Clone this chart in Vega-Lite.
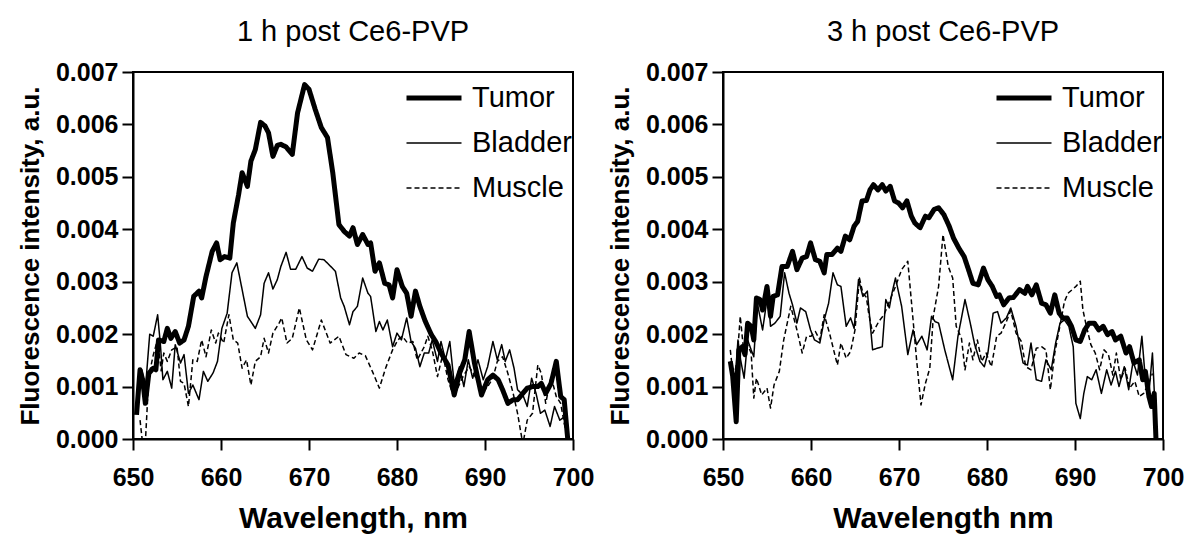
{
"$schema": "https://vega.github.io/schema/vega-lite/v6.json",
"background": "white",
"padding": {"left": 16, "top": 17, "right": 5, "bottom": 5},
"spacing": 11,
"config": {
  "font": "Liberation Sans",
  "view": {"stroke": "black", "strokeWidth": 2},
  "axis": {"domainColor": "black", "domainWidth": 2, "tickColor": "black", "tickWidth": 2, "tickSize": 11, "grid": false,
           "labelFont": "Liberation Sans", "labelFontWeight": "bold", "labelFontSize": 25, "labelColor": "black",
           "titleFont": "Liberation Sans", "titleFontWeight": "bold", "titleColor": "black"},
  "title": {"font": "Liberation Sans", "fontSize": 29, "fontWeight": "normal", "color": "black", "offset": 13},
  "legend": {"orient": "none", "legendX": 271, "legendY": 11, "symbolType": "stroke", "symbolSize": 3025, "symbolStrokeColor": "black",
             "labelFont": "Liberation Sans", "labelFontSize": 29, "labelColor": "black", "labelOffset": 8, "clipHeight": 30, "rowPadding": 15, "padding": 0}
},
"resolve": {"scale": {"strokeDash": "independent", "strokeWidth": "independent"}, "legend": {"strokeDash": "independent", "strokeWidth": "independent"}},
"datasets": {
"h1": [
{"t":"Tumor","w":650.4,"v":0.00046},{"t":"Tumor","w":650.8,"v":0.00132},{"t":"Tumor","w":651.1,"v":0.00113},{"t":"Tumor","w":651.4,"v":0.00068},{"t":"Tumor","w":651.8,"v":0.00125},{"t":"Tumor","w":652.3,"v":0.00135},{"t":"Tumor","w":652.6,"v":0.00132},{"t":"Tumor","w":652.9,"v":0.00189},{"t":"Tumor","w":653.5,"v":0.00186},{"t":"Tumor","w":653.9,"v":0.00211},{"t":"Tumor","w":654.3,"v":0.00192},{"t":"Tumor","w":654.8,"v":0.00205},{"t":"Tumor","w":655.3,"v":0.00183},{"t":"Tumor","w":655.8,"v":0.00189},{"t":"Tumor","w":656.3,"v":0.00215},{"t":"Tumor","w":656.9,"v":0.00272},{"t":"Tumor","w":657.5,"v":0.00282},{"t":"Tumor","w":657.8,"v":0.00269},{"t":"Tumor","w":658.3,"v":0.0031},{"t":"Tumor","w":659.0,"v":0.00358},{"t":"Tumor","w":659.5,"v":0.00374},{"t":"Tumor","w":659.9,"v":0.00342},{"t":"Tumor","w":660.4,"v":0.00348},{"t":"Tumor","w":661.0,"v":0.00345},{"t":"Tumor","w":661.4,"v":0.00412},{"t":"Tumor","w":662.0,"v":0.00466},{"t":"Tumor","w":662.4,"v":0.00508},{"t":"Tumor","w":663.0,"v":0.00482},{"t":"Tumor","w":663.4,"v":0.0053},{"t":"Tumor","w":663.9,"v":0.00552},{"t":"Tumor","w":664.5,"v":0.00604},{"t":"Tumor","w":665.0,"v":0.00597},{"t":"Tumor","w":665.4,"v":0.00584},{"t":"Tumor","w":665.9,"v":0.00539},{"t":"Tumor","w":666.4,"v":0.0056},{"t":"Tumor","w":666.8,"v":0.00562},{"t":"Tumor","w":667.4,"v":0.00557},{"t":"Tumor","w":668.1,"v":0.00543},{"t":"Tumor","w":668.7,"v":0.00622},{"t":"Tumor","w":669.5,"v":0.00676},{"t":"Tumor","w":670.0,"v":0.00667},{"t":"Tumor","w":670.7,"v":0.00629},{"t":"Tumor","w":671.4,"v":0.00594},{"t":"Tumor","w":672.1,"v":0.00575},{"t":"Tumor","w":672.7,"v":0.00508},{"t":"Tumor","w":673.4,"v":0.00409},{"t":"Tumor","w":674.0,"v":0.00396},{"t":"Tumor","w":674.6,"v":0.00387},{"t":"Tumor","w":675.0,"v":0.00403},{"t":"Tumor","w":675.5,"v":0.00371},{"t":"Tumor","w":676.1,"v":0.0039},{"t":"Tumor","w":676.7,"v":0.00371},{"t":"Tumor","w":677.0,"v":0.00374},{"t":"Tumor","w":677.5,"v":0.0032},{"t":"Tumor","w":678.0,"v":0.00336},{"t":"Tumor","w":678.6,"v":0.00297},{"t":"Tumor","w":679.1,"v":0.00294},{"t":"Tumor","w":679.5,"v":0.00269},{"t":"Tumor","w":680.0,"v":0.00323},{"t":"Tumor","w":680.6,"v":0.00291},{"t":"Tumor","w":681.1,"v":0.00278},{"t":"Tumor","w":681.6,"v":0.00234},{"t":"Tumor","w":682.1,"v":0.00282},{"t":"Tumor","w":682.6,"v":0.00253},{"t":"Tumor","w":683.2,"v":0.00225},{"t":"Tumor","w":683.9,"v":0.00199},{"t":"Tumor","w":684.4,"v":0.00186},{"t":"Tumor","w":685.0,"v":0.00164},{"t":"Tumor","w":685.8,"v":0.00141},{"t":"Tumor","w":686.5,"v":0.00084},{"t":"Tumor","w":687.1,"v":0.00125},{"t":"Tumor","w":687.7,"v":0.00151},{"t":"Tumor","w":688.2,"v":0.00205},{"t":"Tumor","w":688.8,"v":0.00145},{"t":"Tumor","w":689.6,"v":0.00084},{"t":"Tumor","w":690.3,"v":0.00113},{"t":"Tumor","w":690.9,"v":0.00122},{"t":"Tumor","w":691.5,"v":0.00113},{"t":"Tumor","w":692.0,"v":0.00094},{"t":"Tumor","w":692.6,"v":0.00068},{"t":"Tumor","w":693.2,"v":0.00075},{"t":"Tumor","w":693.7,"v":0.00075},{"t":"Tumor","w":694.3,"v":0.00087},{"t":"Tumor","w":694.8,"v":0.00097},{"t":"Tumor","w":695.4,"v":0.001},{"t":"Tumor","w":696.0,"v":0.001},{"t":"Tumor","w":696.4,"v":0.00106},{"t":"Tumor","w":696.9,"v":0.00087},{"t":"Tumor","w":697.5,"v":0.00106},{"t":"Tumor","w":698.1,"v":0.00148},{"t":"Tumor","w":698.6,"v":0.00081},{"t":"Tumor","w":699.0,"v":0.00075},{"t":"Tumor","w":699.4,"v":0.0},
{"t":"Bladder","w":650.45,"v":0.00087},{"t":"Bladder","w":651.0,"v":0.00132},{"t":"Bladder","w":651.4,"v":0.00094},{"t":"Bladder","w":651.9,"v":0.002},{"t":"Bladder","w":652.3,"v":0.00196},{"t":"Bladder","w":652.8,"v":0.00237},{"t":"Bladder","w":653.1,"v":0.00183},{"t":"Bladder","w":653.4,"v":0.00113},{"t":"Bladder","w":653.9,"v":0.00129},{"t":"Bladder","w":654.4,"v":0.00097},{"t":"Bladder","w":654.8,"v":0.0018},{"t":"Bladder","w":655.4,"v":0.00145},{"t":"Bladder","w":655.8,"v":0.00161},{"t":"Bladder","w":656.3,"v":0.00087},{"t":"Bladder","w":656.8,"v":0.00103},{"t":"Bladder","w":657.5,"v":0.00075},{"t":"Bladder","w":658.0,"v":0.00129},{"t":"Bladder","w":658.5,"v":0.0011},{"t":"Bladder","w":659.1,"v":0.00126},{"t":"Bladder","w":659.6,"v":0.00148},{"t":"Bladder","w":660.1,"v":0.00211},{"t":"Bladder","w":660.7,"v":0.0024},{"t":"Bladder","w":661.25,"v":0.00317},{"t":"Bladder","w":661.8,"v":0.00336},{"t":"Bladder","w":662.4,"v":0.00285},{"t":"Bladder","w":663.0,"v":0.00234},{"t":"Bladder","w":663.4,"v":0.00224},{"t":"Bladder","w":663.9,"v":0.00211},{"t":"Bladder","w":664.5,"v":0.00237},{"t":"Bladder","w":664.9,"v":0.00297},{"t":"Bladder","w":665.4,"v":0.00317},{"t":"Bladder","w":665.9,"v":0.00286},{"t":"Bladder","w":666.4,"v":0.00304},{"t":"Bladder","w":666.8,"v":0.00329},{"t":"Bladder","w":667.4,"v":0.00356},{"t":"Bladder","w":667.9,"v":0.00324},{"t":"Bladder","w":668.5,"v":0.00324},{"t":"Bladder","w":669.2,"v":0.00348},{"t":"Bladder","w":669.8,"v":0.00326},{"t":"Bladder","w":670.4,"v":0.0032},{"t":"Bladder","w":671.1,"v":0.00343},{"t":"Bladder","w":671.7,"v":0.00342},{"t":"Bladder","w":672.3,"v":0.00332},{"t":"Bladder","w":673.0,"v":0.0032},{"t":"Bladder","w":673.6,"v":0.00269},{"t":"Bladder","w":674.0,"v":0.00253},{"t":"Bladder","w":674.6,"v":0.00218},{"t":"Bladder","w":675.0,"v":0.00243},{"t":"Bladder","w":675.5,"v":0.00253},{"t":"Bladder","w":676.1,"v":0.00307},{"t":"Bladder","w":676.7,"v":0.00278},{"t":"Bladder","w":677.0,"v":0.00272},{"t":"Bladder","w":677.6,"v":0.00205},{"t":"Bladder","w":678.0,"v":0.00224},{"t":"Bladder","w":678.4,"v":0.00208},{"t":"Bladder","w":678.9,"v":0.00227},{"t":"Bladder","w":679.5,"v":0.00176},{"t":"Bladder","w":680.0,"v":0.00202},{"t":"Bladder","w":680.5,"v":0.00189},{"t":"Bladder","w":681.1,"v":0.00231},{"t":"Bladder","w":681.6,"v":0.00186},{"t":"Bladder","w":682.1,"v":0.00173},{"t":"Bladder","w":682.6,"v":0.00138},{"t":"Bladder","w":683.1,"v":0.00164},{"t":"Bladder","w":683.6,"v":0.00164},{"t":"Bladder","w":684.0,"v":0.00189},{"t":"Bladder","w":684.6,"v":0.00148},{"t":"Bladder","w":685.0,"v":0.00186},{"t":"Bladder","w":685.5,"v":0.00151},{"t":"Bladder","w":686.0,"v":0.00186},{"t":"Bladder","w":686.5,"v":0.00106},{"t":"Bladder","w":687.1,"v":0.00138},{"t":"Bladder","w":687.6,"v":0.001},{"t":"Bladder","w":688.1,"v":0.00151},{"t":"Bladder","w":688.6,"v":0.00116},{"t":"Bladder","w":689.2,"v":0.00151},{"t":"Bladder","w":689.8,"v":0.00113},{"t":"Bladder","w":690.3,"v":0.00138},{"t":"Bladder","w":690.9,"v":0.00186},{"t":"Bladder","w":691.4,"v":0.00151},{"t":"Bladder","w":691.9,"v":0.0018},{"t":"Bladder","w":692.3,"v":0.00148},{"t":"Bladder","w":692.8,"v":0.0017},{"t":"Bladder","w":693.3,"v":0.00135},{"t":"Bladder","w":693.7,"v":0.00094},{"t":"Bladder","w":694.3,"v":0.00084},{"t":"Bladder","w":694.8,"v":0.00062},{"t":"Bladder","w":695.3,"v":0.00116},{"t":"Bladder","w":695.8,"v":0.00087},{"t":"Bladder","w":696.3,"v":0.00049},{"t":"Bladder","w":696.8,"v":0.00055},{"t":"Bladder","w":697.4,"v":0.00024},{"t":"Bladder","w":697.9,"v":0.00062},{"t":"Bladder","w":698.5,"v":0.00036},{"t":"Bladder","w":699.1,"v":0.00043},{"t":"Bladder","w":699.4,"v":0.0},
{"t":"Muscle","w":650.8,"v":0.00036},{"t":"Muscle","w":651.3,"v":-0.0004},{"t":"Muscle","w":651.8,"v":0.0012},{"t":"Muscle","w":652.3,"v":0.0016},{"t":"Muscle","w":652.8,"v":0.0019},{"t":"Muscle","w":653.2,"v":0.0013},{"t":"Muscle","w":653.5,"v":0.00164},{"t":"Muscle","w":653.9,"v":0.00148},{"t":"Muscle","w":654.4,"v":0.0017},{"t":"Muscle","w":655.0,"v":0.00176},{"t":"Muscle","w":655.4,"v":0.0011},{"t":"Muscle","w":655.8,"v":0.00106},{"t":"Muscle","w":656.3,"v":0.00062},{"t":"Muscle","w":656.8,"v":0.00151},{"t":"Muscle","w":657.3,"v":0.00148},{"t":"Muscle","w":657.8,"v":0.00189},{"t":"Muscle","w":658.3,"v":0.00157},{"t":"Muscle","w":658.9,"v":0.00208},{"t":"Muscle","w":659.4,"v":0.00183},{"t":"Muscle","w":659.7,"v":0.00202},{"t":"Muscle","w":660.3,"v":0.00183},{"t":"Muscle","w":660.9,"v":0.00237},{"t":"Muscle","w":661.4,"v":0.00189},{"t":"Muscle","w":661.9,"v":0.00183},{"t":"Muscle","w":662.4,"v":0.00135},{"t":"Muscle","w":662.9,"v":0.00151},{"t":"Muscle","w":663.4,"v":0.00103},{"t":"Muscle","w":663.9,"v":0.00148},{"t":"Muscle","w":664.5,"v":0.00157},{"t":"Muscle","w":664.9,"v":0.00192},{"t":"Muscle","w":665.4,"v":0.00164},{"t":"Muscle","w":665.9,"v":0.00202},{"t":"Muscle","w":666.6,"v":0.00221},{"t":"Muscle","w":666.9,"v":0.00231},{"t":"Muscle","w":667.5,"v":0.00183},{"t":"Muscle","w":668.1,"v":0.00192},{"t":"Muscle","w":668.9,"v":0.0025},{"t":"Muscle","w":669.7,"v":0.00189},{"t":"Muscle","w":670.4,"v":0.0017},{"t":"Muscle","w":671.4,"v":0.00227},{"t":"Muscle","w":672.4,"v":0.00183},{"t":"Muscle","w":673.4,"v":0.00196},{"t":"Muscle","w":674.2,"v":0.00161},{"t":"Muscle","w":675.1,"v":0.00154},{"t":"Muscle","w":675.7,"v":0.00164},{"t":"Muscle","w":676.4,"v":0.00159},{"t":"Muscle","w":677.2,"v":0.00129},{"t":"Muscle","w":678.0,"v":0.00097},{"t":"Muscle","w":678.7,"v":0.00135},{"t":"Muscle","w":679.5,"v":0.0017},{"t":"Muscle","w":680.1,"v":0.00189},{"t":"Muscle","w":680.6,"v":0.00196},{"t":"Muscle","w":681.2,"v":0.00183},{"t":"Muscle","w":681.8,"v":0.00186},{"t":"Muscle","w":682.3,"v":0.00151},{"t":"Muscle","w":683.1,"v":0.00176},{"t":"Muscle","w":683.5,"v":0.00196},{"t":"Muscle","w":684.0,"v":0.0017},{"t":"Muscle","w":684.6,"v":0.00119},{"t":"Muscle","w":685.2,"v":0.00161},{"t":"Muscle","w":685.8,"v":0.00113},{"t":"Muscle","w":686.3,"v":0.00087},{"t":"Muscle","w":686.9,"v":0.00097},{"t":"Muscle","w":687.5,"v":0.00119},{"t":"Muscle","w":688.2,"v":0.00138},{"t":"Muscle","w":689.0,"v":0.00116},{"t":"Muscle","w":689.6,"v":0.00087},{"t":"Muscle","w":690.3,"v":0.001},{"t":"Muscle","w":690.9,"v":0.00116},{"t":"Muscle","w":691.4,"v":0.00148},{"t":"Muscle","w":692.0,"v":0.00157},{"t":"Muscle","w":692.6,"v":0.00125},{"t":"Muscle","w":693.2,"v":0.00087},{"t":"Muscle","w":693.7,"v":0.00049},{"t":"Muscle","w":694.3,"v":-0.0001},{"t":"Muscle","w":694.8,"v":0.00036},{"t":"Muscle","w":695.4,"v":0.00049},{"t":"Muscle","w":696.0,"v":0.00141},{"t":"Muscle","w":696.4,"v":0.00125},{"t":"Muscle","w":696.9,"v":0.00068},{"t":"Muscle","w":697.5,"v":0.00119},{"t":"Muscle","w":698.1,"v":0.00081},{"t":"Muscle","w":698.6,"v":0.00068},{"t":"Muscle","w":699.0,"v":0.0003},{"t":"Muscle","w":699.4,"v":0.0}
],
"h3": [
{"t":"Tumor","w":650.83,"v":0.00148},{"t":"Tumor","w":651.1,"v":0.0012},{"t":"Tumor","w":651.5,"v":0.00033},{"t":"Tumor","w":651.8,"v":0.0017},{"t":"Tumor","w":652.2,"v":0.00176},{"t":"Tumor","w":652.5,"v":0.00161},{"t":"Tumor","w":652.8,"v":0.00221},{"t":"Tumor","w":653.2,"v":0.00215},{"t":"Tumor","w":653.5,"v":0.00189},{"t":"Tumor","w":653.8,"v":0.00269},{"t":"Tumor","w":654.2,"v":0.00266},{"t":"Tumor","w":654.5,"v":0.00246},{"t":"Tumor","w":655.0,"v":0.00291},{"t":"Tumor","w":655.4,"v":0.00234},{"t":"Tumor","w":655.7,"v":0.00272},{"t":"Tumor","w":656.2,"v":0.00275},{"t":"Tumor","w":656.7,"v":0.00329},{"t":"Tumor","w":657.3,"v":0.00329},{"t":"Tumor","w":657.9,"v":0.00358},{"t":"Tumor","w":658.4,"v":0.00323},{"t":"Tumor","w":659.0,"v":0.00345},{"t":"Tumor","w":659.5,"v":0.00348},{"t":"Tumor","w":659.95,"v":0.00374},{"t":"Tumor","w":660.5,"v":0.00342},{"t":"Tumor","w":661.0,"v":0.00339},{"t":"Tumor","w":661.5,"v":0.00317},{"t":"Tumor","w":661.8,"v":0.00352},{"t":"Tumor","w":662.4,"v":0.00352},{"t":"Tumor","w":663.0,"v":0.00364},{"t":"Tumor","w":663.4,"v":0.00358},{"t":"Tumor","w":663.9,"v":0.00387},{"t":"Tumor","w":664.4,"v":0.0038},{"t":"Tumor","w":664.9,"v":0.00406},{"t":"Tumor","w":665.3,"v":0.00415},{"t":"Tumor","w":665.8,"v":0.00454},{"t":"Tumor","w":666.3,"v":0.00455},{"t":"Tumor","w":666.7,"v":0.00475},{"t":"Tumor","w":667.1,"v":0.00485},{"t":"Tumor","w":667.6,"v":0.00475},{"t":"Tumor","w":668.1,"v":0.00485},{"t":"Tumor","w":668.5,"v":0.00473},{"t":"Tumor","w":669.0,"v":0.00482},{"t":"Tumor","w":669.5,"v":0.00454},{"t":"Tumor","w":669.95,"v":0.0045},{"t":"Tumor","w":670.4,"v":0.00441},{"t":"Tumor","w":670.9,"v":0.00454},{"t":"Tumor","w":671.4,"v":0.00425},{"t":"Tumor","w":671.8,"v":0.00412},{"t":"Tumor","w":672.4,"v":0.00403},{"t":"Tumor","w":673.0,"v":0.00425},{"t":"Tumor","w":673.4,"v":0.00422},{"t":"Tumor","w":674.0,"v":0.00438},{"t":"Tumor","w":674.5,"v":0.00441},{"t":"Tumor","w":675.1,"v":0.00428},{"t":"Tumor","w":675.7,"v":0.00406},{"t":"Tumor","w":676.2,"v":0.00383},{"t":"Tumor","w":676.8,"v":0.00364},{"t":"Tumor","w":677.4,"v":0.00348},{"t":"Tumor","w":677.9,"v":0.00323},{"t":"Tumor","w":678.4,"v":0.00297},{"t":"Tumor","w":679.0,"v":0.00294},{"t":"Tumor","w":679.6,"v":0.00326},{"t":"Tumor","w":680.1,"v":0.00304},{"t":"Tumor","w":680.6,"v":0.00291},{"t":"Tumor","w":681.1,"v":0.00272},{"t":"Tumor","w":681.4,"v":0.00275},{"t":"Tumor","w":681.9,"v":0.00256},{"t":"Tumor","w":682.5,"v":0.00269},{"t":"Tumor","w":683.0,"v":0.0027},{"t":"Tumor","w":683.7,"v":0.00285},{"t":"Tumor","w":684.3,"v":0.00278},{"t":"Tumor","w":684.6,"v":0.00291},{"t":"Tumor","w":685.1,"v":0.00275},{"t":"Tumor","w":685.6,"v":0.00294},{"t":"Tumor","w":686.2,"v":0.00259},{"t":"Tumor","w":686.7,"v":0.00256},{"t":"Tumor","w":687.2,"v":0.0024},{"t":"Tumor","w":687.7,"v":0.00275},{"t":"Tumor","w":688.2,"v":0.0024},{"t":"Tumor","w":688.6,"v":0.00231},{"t":"Tumor","w":689.1,"v":0.00231},{"t":"Tumor","w":689.6,"v":0.00215},{"t":"Tumor","w":690.1,"v":0.00189},{"t":"Tumor","w":690.6,"v":0.00186},{"t":"Tumor","w":691.1,"v":0.00208},{"t":"Tumor","w":691.6,"v":0.00221},{"t":"Tumor","w":692.2,"v":0.00221},{"t":"Tumor","w":692.7,"v":0.00208},{"t":"Tumor","w":693.2,"v":0.00215},{"t":"Tumor","w":693.7,"v":0.00199},{"t":"Tumor","w":694.2,"v":0.00205},{"t":"Tumor","w":694.6,"v":0.00189},{"t":"Tumor","w":695.2,"v":0.00196},{"t":"Tumor","w":695.8,"v":0.00164},{"t":"Tumor","w":696.2,"v":0.00176},{"t":"Tumor","w":696.7,"v":0.00145},{"t":"Tumor","w":697.3,"v":0.00151},{"t":"Tumor","w":697.7,"v":0.00113},{"t":"Tumor","w":698.0,"v":0.00129},{"t":"Tumor","w":698.4,"v":0.00081},{"t":"Tumor","w":698.7,"v":0.00062},{"t":"Tumor","w":699.0,"v":0.00087},{"t":"Tumor","w":699.2,"v":0.0},
{"t":"Bladder","w":650.83,"v":0.00148},{"t":"Bladder","w":651.3,"v":0.00094},{"t":"Bladder","w":651.7,"v":0.00189},{"t":"Bladder","w":652.0,"v":0.00151},{"t":"Bladder","w":652.4,"v":0.00116},{"t":"Bladder","w":652.8,"v":0.00189},{"t":"Bladder","w":653.2,"v":0.0017},{"t":"Bladder","w":653.5,"v":0.00157},{"t":"Bladder","w":653.9,"v":0.00259},{"t":"Bladder","w":654.5,"v":0.00208},{"t":"Bladder","w":655.1,"v":0.00278},{"t":"Bladder","w":655.4,"v":0.00215},{"t":"Bladder","w":655.9,"v":0.00221},{"t":"Bladder","w":656.5,"v":0.00234},{"t":"Bladder","w":657.0,"v":0.00317},{"t":"Bladder","w":657.5,"v":0.00278},{"t":"Bladder","w":657.9,"v":0.00256},{"t":"Bladder","w":658.4,"v":0.00221},{"t":"Bladder","w":658.8,"v":0.0025},{"t":"Bladder","w":659.4,"v":0.00243},{"t":"Bladder","w":659.95,"v":0.00208},{"t":"Bladder","w":660.4,"v":0.00189},{"t":"Bladder","w":661.0,"v":0.00183},{"t":"Bladder","w":661.5,"v":0.00227},{"t":"Bladder","w":662.0,"v":0.00259},{"t":"Bladder","w":662.5,"v":0.00317},{"t":"Bladder","w":663.0,"v":0.00294},{"t":"Bladder","w":663.4,"v":0.00291},{"t":"Bladder","w":664.0,"v":0.00215},{"t":"Bladder","w":664.5,"v":0.00231},{"t":"Bladder","w":664.9,"v":0.00211},{"t":"Bladder","w":665.4,"v":0.00304},{"t":"Bladder","w":665.9,"v":0.00272},{"t":"Bladder","w":666.4,"v":0.00282},{"t":"Bladder","w":667.0,"v":0.0017},{"t":"Bladder","w":667.5,"v":0.00173},{"t":"Bladder","w":668.1,"v":0.00176},{"t":"Bladder","w":668.5,"v":0.00266},{"t":"Bladder","w":668.9,"v":0.0025},{"t":"Bladder","w":669.2,"v":0.00278},{"t":"Bladder","w":669.6,"v":0.00307},{"t":"Bladder","w":670.3,"v":0.00253},{"t":"Bladder","w":671.0,"v":0.00161},{"t":"Bladder","w":671.6,"v":0.00208},{"t":"Bladder","w":672.0,"v":0.0018},{"t":"Bladder","w":672.6,"v":0.00196},{"t":"Bladder","w":673.2,"v":0.0017},{"t":"Bladder","w":673.7,"v":0.00234},{"t":"Bladder","w":674.1,"v":0.00224},{"t":"Bladder","w":674.5,"v":0.00221},{"t":"Bladder","w":675.2,"v":0.0017},{"t":"Bladder","w":676.1,"v":0.00113},{"t":"Bladder","w":676.7,"v":0.00196},{"t":"Bladder","w":677.5,"v":0.00266},{"t":"Bladder","w":678.1,"v":0.00221},{"t":"Bladder","w":678.6,"v":0.0018},{"t":"Bladder","w":679.2,"v":0.00148},{"t":"Bladder","w":679.7,"v":0.00138},{"t":"Bladder","w":680.1,"v":0.00164},{"t":"Bladder","w":680.7,"v":0.0024},{"t":"Bladder","w":681.2,"v":0.00243},{"t":"Bladder","w":681.6,"v":0.00221},{"t":"Bladder","w":682.2,"v":0.00231},{"t":"Bladder","w":682.7,"v":0.0025},{"t":"Bladder","w":683.3,"v":0.00215},{"t":"Bladder","w":684.1,"v":0.00145},{"t":"Bladder","w":684.6,"v":0.00141},{"t":"Bladder","w":685.0,"v":0.00183},{"t":"Bladder","w":685.6,"v":0.00113},{"t":"Bladder","w":686.2,"v":0.0011},{"t":"Bladder","w":686.7,"v":0.00151},{"t":"Bladder","w":687.3,"v":0.00132},{"t":"Bladder","w":687.8,"v":0.00183},{"t":"Bladder","w":688.3,"v":0.00221},{"t":"Bladder","w":688.8,"v":0.00227},{"t":"Bladder","w":689.3,"v":0.00215},{"t":"Bladder","w":689.8,"v":0.00176},{"t":"Bladder","w":690.1,"v":0.00068},{"t":"Bladder","w":690.6,"v":0.00039},{"t":"Bladder","w":691.0,"v":0.00087},{"t":"Bladder","w":691.4,"v":0.00119},{"t":"Bladder","w":691.9,"v":0.00113},{"t":"Bladder","w":692.4,"v":0.00132},{"t":"Bladder","w":693.0,"v":0.00087},{"t":"Bladder","w":693.6,"v":0.00132},{"t":"Bladder","w":694.1,"v":0.00103},{"t":"Bladder","w":694.6,"v":0.00129},{"t":"Bladder","w":695.0,"v":0.001},{"t":"Bladder","w":695.6,"v":0.00138},{"t":"Bladder","w":696.1,"v":0.00094},{"t":"Bladder","w":696.6,"v":0.00148},{"t":"Bladder","w":697.1,"v":0.00122},{"t":"Bladder","w":697.6,"v":0.00196},{"t":"Bladder","w":698.0,"v":0.00113},{"t":"Bladder","w":698.4,"v":0.00087},{"t":"Bladder","w":698.8,"v":0.00164},{"t":"Bladder","w":699.2,"v":0.00024},
{"t":"Muscle","w":650.83,"v":0.0017},{"t":"Muscle","w":651.2,"v":0.00113},{"t":"Muscle","w":651.6,"v":0.00151},{"t":"Muscle","w":651.96,"v":0.00234},{"t":"Muscle","w":652.3,"v":0.00176},{"t":"Muscle","w":652.7,"v":0.00183},{"t":"Muscle","w":653.2,"v":0.00164},{"t":"Muscle","w":653.5,"v":0.00078},{"t":"Muscle","w":653.8,"v":0.00116},{"t":"Muscle","w":654.4,"v":0.00084},{"t":"Muscle","w":655.0,"v":0.00097},{"t":"Muscle","w":655.4,"v":0.00059},{"t":"Muscle","w":655.8,"v":0.00103},{"t":"Muscle","w":656.4,"v":0.00129},{"t":"Muscle","w":656.9,"v":0.00189},{"t":"Muscle","w":657.7,"v":0.00253},{"t":"Muscle","w":658.4,"v":0.00208},{"t":"Muscle","w":659.0,"v":0.00164},{"t":"Muscle","w":659.5,"v":0.00196},{"t":"Muscle","w":660.0,"v":0.00196},{"t":"Muscle","w":660.5,"v":0.00205},{"t":"Muscle","w":661.0,"v":0.00189},{"t":"Muscle","w":661.5,"v":0.00237},{"t":"Muscle","w":662.1,"v":0.00202},{"t":"Muscle","w":663.0,"v":0.00141},{"t":"Muscle","w":663.4,"v":0.00183},{"t":"Muscle","w":664.0,"v":0.00154},{"t":"Muscle","w":664.5,"v":0.00167},{"t":"Muscle","w":665.0,"v":0.00208},{"t":"Muscle","w":665.5,"v":0.00307},{"t":"Muscle","w":665.9,"v":0.00278},{"t":"Muscle","w":666.3,"v":0.0027},{"t":"Muscle","w":666.55,"v":0.0024},{"t":"Muscle","w":667.0,"v":0.00202},{"t":"Muscle","w":667.7,"v":0.00224},{"t":"Muscle","w":668.3,"v":0.00237},{"t":"Muscle","w":669.0,"v":0.00266},{"t":"Muscle","w":669.6,"v":0.00291},{"t":"Muscle","w":670.3,"v":0.00323},{"t":"Muscle","w":671.0,"v":0.00339},{"t":"Muscle","w":671.6,"v":0.00227},{"t":"Muscle","w":672.0,"v":0.00151},{"t":"Muscle","w":672.5,"v":0.00065},{"t":"Muscle","w":673.0,"v":0.00106},{"t":"Muscle","w":673.5,"v":0.00135},{"t":"Muscle","w":673.9,"v":0.00234},{"t":"Muscle","w":674.5,"v":0.00291},{"t":"Muscle","w":675.0,"v":0.0039},{"t":"Muscle","w":675.6,"v":0.00329},{"t":"Muscle","w":676.1,"v":0.00307},{"t":"Muscle","w":676.5,"v":0.00215},{"t":"Muscle","w":677.1,"v":0.00192},{"t":"Muscle","w":677.5,"v":0.00132},{"t":"Muscle","w":678.0,"v":0.00183},{"t":"Muscle","w":678.4,"v":0.00151},{"t":"Muscle","w":678.9,"v":0.00189},{"t":"Muscle","w":679.4,"v":0.00148},{"t":"Muscle","w":679.9,"v":0.00164},{"t":"Muscle","w":680.5,"v":0.00138},{"t":"Muscle","w":681.1,"v":0.00196},{"t":"Muscle","w":681.6,"v":0.00202},{"t":"Muscle","w":682.2,"v":0.00224},{"t":"Muscle","w":682.7,"v":0.00245},{"t":"Muscle","w":683.3,"v":0.00202},{"t":"Muscle","w":683.9,"v":0.00186},{"t":"Muscle","w":684.4,"v":0.00138},{"t":"Muscle","w":685.0,"v":0.00132},{"t":"Muscle","w":685.6,"v":0.00173},{"t":"Muscle","w":686.2,"v":0.00176},{"t":"Muscle","w":686.7,"v":0.0017},{"t":"Muscle","w":687.2,"v":0.00094},{"t":"Muscle","w":687.7,"v":0.00164},{"t":"Muscle","w":688.2,"v":0.00208},{"t":"Muscle","w":688.8,"v":0.00262},{"t":"Muscle","w":689.2,"v":0.00278},{"t":"Muscle","w":689.7,"v":0.00285},{"t":"Muscle","w":690.1,"v":0.00291},{"t":"Muscle","w":690.6,"v":0.00301},{"t":"Muscle","w":690.9,"v":0.00246},{"t":"Muscle","w":691.3,"v":0.00215},{"t":"Muscle","w":691.8,"v":0.0018},{"t":"Muscle","w":692.3,"v":0.00164},{"t":"Muscle","w":692.8,"v":0.00132},{"t":"Muscle","w":693.3,"v":0.0017},{"t":"Muscle","w":693.8,"v":0.00161},{"t":"Muscle","w":694.3,"v":0.00122},{"t":"Muscle","w":694.7,"v":0.00164},{"t":"Muscle","w":695.2,"v":0.00113},{"t":"Muscle","w":695.7,"v":0.00135},{"t":"Muscle","w":696.2,"v":0.00097},{"t":"Muscle","w":696.8,"v":0.0011},{"t":"Muscle","w":697.3,"v":0.00081},{"t":"Muscle","w":697.8,"v":0.00087},{"t":"Muscle","w":698.3,"v":0.00103},{"t":"Muscle","w":698.8,"v":0.00125}
]
},
"hconcat": [
{
  "width": 440, "height": 367,
  "title": {"text": "1 h post Ce6-PVP"},
  "data": {"name": "h1"},
  "mark": {"type": "line", "clip": true, "color": "black", "strokeJoin": "round"},
  "encoding": {
    "x": {"field": "w", "type": "quantitative", "scale": {"domain": [650, 700], "nice": false, "zero": false},
          "axis": {"values": [650, 660, 670, 680, 690, 700], "title": "Wavelength, nm", "titleFontSize": 30, "labelPadding": 15, "titlePadding": 13, "labelFlush": false}},
    "y": {"field": "v", "type": "quantitative", "scale": {"domain": [0, 0.007], "nice": false},
          "axis": {"values": [0, 0.001, 0.002, 0.003, 0.004, 0.005, 0.006, 0.007], "format": ".3f", "title": "Fluorescence intensity, a.u.", "titleFontSize": 26, "labelPadding": 4, "titlePadding": 12, "labelFlush": false}},
    "strokeDash": {"field": "t", "type": "nominal", "scale": {"domain": ["Tumor", "Bladder", "Muscle"], "range": [[1, 0], [1, 0], [5, 3]]}, "legend": {"title": null}},
    "strokeWidth": {"field": "t", "type": "nominal", "scale": {"type": "ordinal", "domain": ["Tumor", "Bladder", "Muscle"], "range": [5, 1.5, 1.5]}, "legend": {"title": null}}
  }
},
{
  "width": 440, "height": 367,
  "title": {"text": "3 h post Ce6-PVP"},
  "data": {"name": "h3"},
  "mark": {"type": "line", "clip": true, "color": "black", "strokeJoin": "round"},
  "encoding": {
    "x": {"field": "w", "type": "quantitative", "scale": {"domain": [650, 700], "nice": false, "zero": false},
          "axis": {"values": [650, 660, 670, 680, 690, 700], "title": "Wavelength nm", "titleFontSize": 30, "labelPadding": 15, "titlePadding": 13, "labelFlush": false}},
    "y": {"field": "v", "type": "quantitative", "scale": {"domain": [0, 0.007], "nice": false},
          "axis": {"values": [0, 0.001, 0.002, 0.003, 0.004, 0.005, 0.006, 0.007], "format": ".3f", "title": "Fluorescence intensity, a.u.", "titleFontSize": 26, "labelPadding": 4, "titlePadding": 12, "labelFlush": false}},
    "strokeDash": {"field": "t", "type": "nominal", "scale": {"domain": ["Tumor", "Bladder", "Muscle"], "range": [[1, 0], [1, 0], [5, 3]]}, "legend": {"title": null}},
    "strokeWidth": {"field": "t", "type": "nominal", "scale": {"type": "ordinal", "domain": ["Tumor", "Bladder", "Muscle"], "range": [5, 1.5, 1.5]}, "legend": {"title": null}}
  }
}
]
}
